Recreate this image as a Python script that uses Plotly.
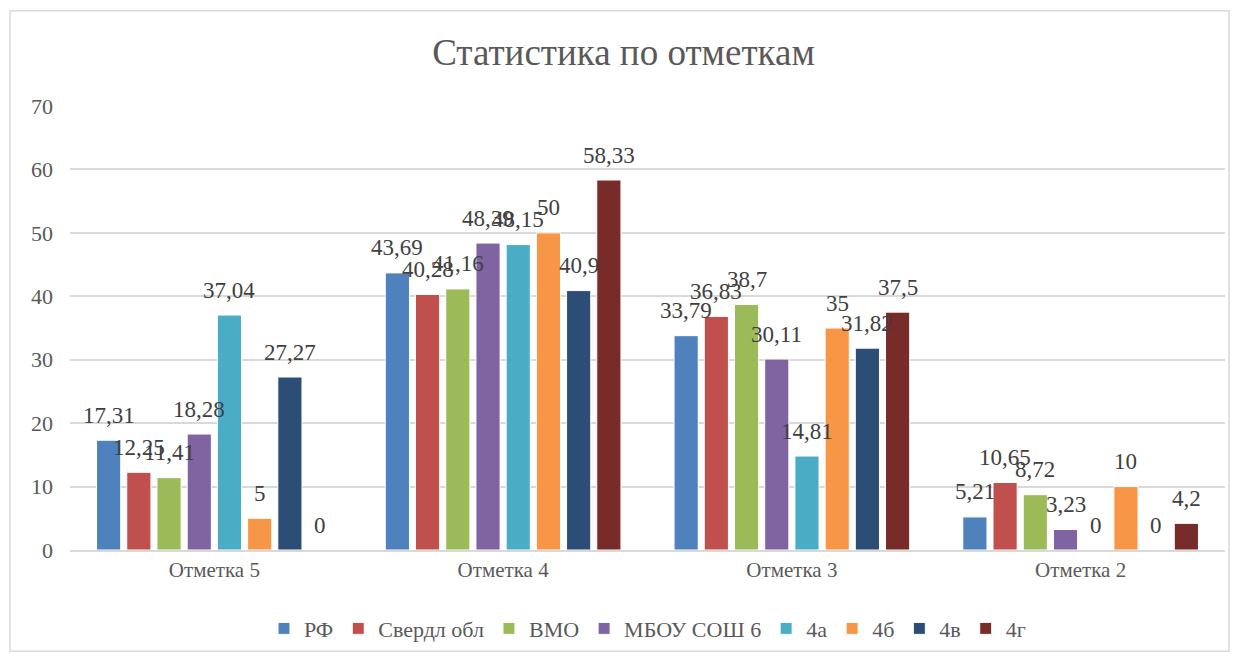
import plotly.graph_objects as go

# категории и ряды
categories = ["Отметка 5", "Отметка 4", "Отметка 3", "Отметка 2"]
series_names = ["РФ", "Свердл обл", "ВМО", "МБОУ СОШ 6", "4а", "4б", "4в", "4г"]
rf = [17.31, 43.69, 33.79, 5.21]
sverdl = [12.25, 40.28, 36.83, 10.65]
vmo = [11.41, 41.16, 38.7, 8.72]
mbou = [18.28, 48.39, 30.11, 3.23]
k4a = [37.04, 48.15, 14.81, 0]
k4b = [5, 50, 35, 10]
k4v = [27.27, 40.9, 31.82, 0]
k4g = [0, 58.33, 37.5, 4.2]

colors = ["#4F81BD", "#C0504D", "#9BBB59", "#8064A2",
          "#4BACC6", "#F79646", "#2C4D75", "#772C2A"]

font = "'Liberation Serif', 'Times New Roman', Times, serif"


def fmt(v):
    # десятичная запятая, как в оригинале
    return ("%g" % v).replace(".", ",")


# геометрия области построения (пиксели фигуры)
W, H = 1231, 654
ml, mr, mt, mb = 62, 14, 98, 109
bargap, bargroupgap = 0.163, 0.2
n = len(series_names)
slot = (W - ml - mr) / len(categories) * (1 - bargap) / n

fig = go.Figure()
all_vals = [rf, sverdl, vmo, mbou, k4a, k4b, k4v, k4g]
for i, (name, vals, col) in enumerate(zip(series_names, all_vals, colors)):
    fig.add_trace(go.Bar(
        x=categories, y=vals, name=name,
        marker=dict(color=col, line=dict(color="white", width=1)),
    ))
    # подписи данных над столбцами
    for cat, v in zip(categories, vals):
        fig.add_annotation(
            x=cat, y=v, text=fmt(v), showarrow=False,
            xshift=(i - (n - 1) / 2) * slot, yshift=25, yanchor="middle",
            font=dict(family=font, size=23, color="#404040"),
        )

# страница сдвигается на 8px отступом body, поэтому фигура чуть меньше окна
fig.update_layout(
    width=W, height=H,
    paper_bgcolor="white", plot_bgcolor="white",
    barmode="group", bargap=bargap, bargroupgap=bargroupgap,
    title=dict(text="Статистика по отметкам", x=0.5, xanchor="center",
               y=0.933, yanchor="middle",
               font=dict(family=font, size=37, color="#595959")),
    font=dict(family=font, color="#595959"),
    margin=dict(l=ml, r=mr, t=mt, b=mb),
    yaxis=dict(range=[0, 70], dtick=10, showgrid=True, gridcolor="#d9d9d9",
               gridwidth=1.5, zeroline=False, ticks="", ticklabelstandoff=16,
               automargin=False,
               tickfont=dict(family=font, size=22, color="#595959")),
    xaxis=dict(showline=True, linecolor="#d9d9d9", linewidth=1.5, ticks="",
               automargin=False,
               tickfont=dict(family=font, size=21, color="#595959")),
    legend=dict(orientation="h", x=0.5, xanchor="center", y=-0.177,
                yanchor="middle", font=dict(family=font, size=22, color="#595959"),
                itemwidth=30, tracegroupgap=0),
    showlegend=True,
)

# рамка вокруг диаграммы
fig.add_shape(type="rect", xref="paper", yref="paper",
              x0=-60 / 1155, x1=1 + 4 / 1155, y0=-102 / 447, y1=1 + 96 / 447,
              line=dict(color="#d9d9d9", width=1.5), fillcolor="rgba(0,0,0,0)",
              layer="below")

fig.write_html("out.html")
